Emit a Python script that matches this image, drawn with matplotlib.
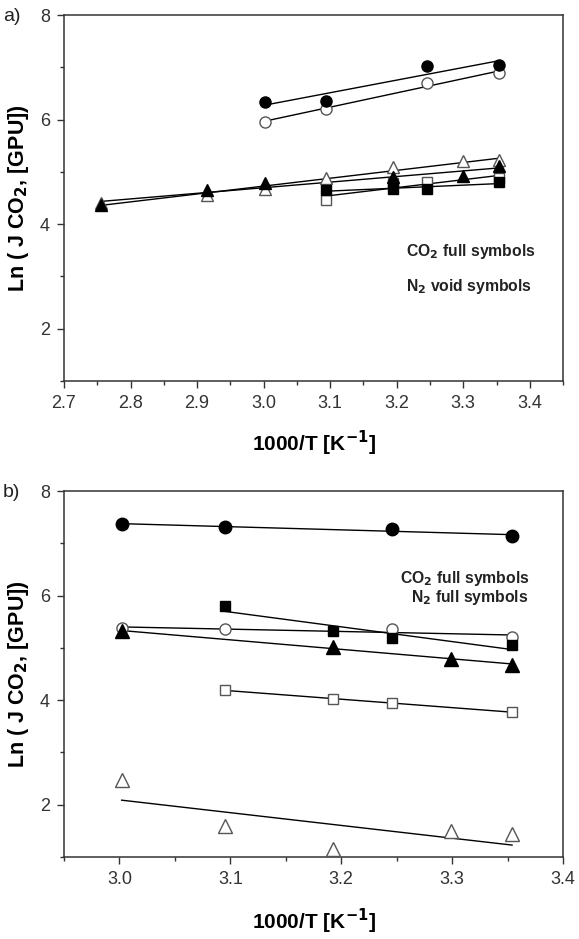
import numpy as np
import matplotlib
matplotlib.use('Agg')
import matplotlib.pyplot as plt
from matplotlib.ticker import MultipleLocator

plt.rcParams['font.family'] = ['Liberation Sans', 'DejaVu Sans']

# panel a) data
a_x_circ = [3.002, 3.094, 3.246, 3.354]
a_co2_circ = [6.33, 6.36, 7.03, 7.05]
a_n2_circ = [5.96, 6.21, 6.70, 6.89]
a_x_tri_full = [2.755, 2.915, 3.002, 3.194, 3.299, 3.354]
a_co2_tri = [4.36, 4.65, 4.79, 4.90, 4.92, 5.12]
a_x_tri_void = [2.755, 2.915, 3.002, 3.094, 3.194, 3.299, 3.354]
a_n2_tri = [4.40, 4.55, 4.68, 4.88, 5.09, 5.20, 5.22]
a_x_sq = [3.094, 3.194, 3.246, 3.354]
a_co2_sq = [4.66, 4.67, 4.67, 4.81]
a_n2_sq = [4.47, 4.78, 4.80, 4.88]

# panel b) data
b_x_circ = [3.002, 3.095, 3.246, 3.354]
b_co2_circ = [7.36, 7.32, 7.28, 7.13]
b_n2_circ = [5.38, 5.36, 5.36, 5.20]
b_x_tri_full = [3.002, 3.193, 3.299, 3.354]
b_co2_tri = [5.32, 5.01, 4.79, 4.68]
b_x_sq = [3.095, 3.193, 3.246, 3.354]
b_co2_sq = [5.80, 5.32, 5.18, 5.06]
b_n2_sq = [4.19, 4.02, 3.95, 3.77]
b_x_tri_void = [3.002, 3.095, 3.193, 3.299, 3.354]
b_n2_tri = [2.47, 1.60, 1.16, 1.49, 1.44]

GREY = '#555555'


def fit_line(ax, x, y):
    # straight linear fit drawn over the span of the points
    p = np.polyfit(x, y, 1)
    xx = np.array([min(x), max(x)])
    ax.plot(xx, np.polyval(p, xx), color='black', lw=1.0, zorder=2)


def pts(ax, x, y, marker, filled, ms):
    if filled:
        ax.plot(x, y, ls='none', marker=marker, ms=ms, mfc='black', mec='black', zorder=4)
    else:
        ax.plot(x, y, ls='none', marker=marker, ms=ms, mfc='white', mec=GREY, mew=1.0, zorder=3)


def style_axes(ax, xlab_y):
    for s in ax.spines.values():
        s.set_color('#333333')
        s.set_linewidth(1.1)
    ax.tick_params(which='both', direction='out', top=False, right=False,
                   colors='#333333', labelsize=13, width=1.0)
    ax.tick_params(which='major', length=5, pad=5)
    ax.tick_params(which='minor', length=3)
    ax.yaxis.set_major_locator(MultipleLocator(2))
    ax.yaxis.set_minor_locator(MultipleLocator(1))
    ax.set_ylabel('Ln ( J CO$_\\mathbf{2}$, [GPU])', fontsize=15.5, fontweight='bold')
    ax.set_xlabel('1000/T [K$^{\\mathbf{-1}}$]', fontsize=15, fontweight='bold')
    ax.yaxis.set_label_coords(-0.066, 0.5)
    ax.xaxis.set_label_coords(0.5, xlab_y)


fig = plt.figure(figsize=(5.79, 9.39), dpi=100)
ax1 = fig.add_axes([0.1105, 0.5942, 0.862, 0.3898])
ax2 = fig.add_axes([0.1105, 0.0873, 0.862, 0.3898])

# a)
for x, y in [(a_x_circ, a_co2_circ), (a_x_circ, a_n2_circ), (a_x_tri_full, a_co2_tri),
             (a_x_tri_void, a_n2_tri), (a_x_sq, a_co2_sq), (a_x_sq, a_n2_sq)]:
    fit_line(ax1, x, y)
pts(ax1, a_x_circ, a_n2_circ, 'o', False, 8)
pts(ax1, a_x_tri_void, a_n2_tri, '^', False, 8.5)
pts(ax1, a_x_sq, a_n2_sq, 's', False, 6.5)
pts(ax1, a_x_circ, a_co2_circ, 'o', True, 8)
pts(ax1, a_x_tri_full, a_co2_tri, '^', True, 8.5)
pts(ax1, a_x_sq, a_co2_sq, 's', True, 6.5)
ax1.set_xlim(2.7, 3.45)
ax1.set_ylim(1, 8)
ax1.xaxis.set_major_locator(MultipleLocator(0.1))
ax1.xaxis.set_minor_locator(MultipleLocator(0.05))
style_axes(ax1, -0.13)
ax1.text(3.214, 3.47, 'CO$_\\mathbf{2}$ full symbols', fontsize=11.3, fontweight='bold', color='#222222', va='center')
ax1.text(3.214, 2.80, 'N$_\\mathbf{2}$ void symbols', fontsize=11.3, fontweight='bold', color='#222222', va='center')

# b)
for x, y in [(b_x_circ, b_co2_circ), (b_x_circ, b_n2_circ), (b_x_tri_full, b_co2_tri),
             (b_x_sq, b_co2_sq), (b_x_sq, b_n2_sq), (b_x_tri_void, b_n2_tri)]:
    fit_line(ax2, x, y)
pts(ax2, b_x_circ, b_n2_circ, 'o', False, 8)
pts(ax2, b_x_sq, b_n2_sq, 's', False, 7)
pts(ax2, b_x_tri_void, b_n2_tri, '^', False, 10)
pts(ax2, b_x_circ, b_co2_circ, 'o', True, 9)
pts(ax2, b_x_tri_full, b_co2_tri, '^', True, 9.5)
pts(ax2, b_x_sq, b_co2_sq, 's', True, 7.5)
ax2.set_xlim(2.95, 3.4)
ax2.set_ylim(1, 8)
ax2.xaxis.set_major_locator(MultipleLocator(0.1))
ax2.xaxis.set_minor_locator(MultipleLocator(0.05))
style_axes(ax2, -0.135)
ax2.text(3.253, 6.32, 'CO$_\\mathbf{2}$ full symbols', fontsize=11.3, fontweight='bold', color='#222222', va='center')
ax2.text(3.263, 5.97, 'N$_\\mathbf{2}$ full symbols', fontsize=11.3, fontweight='bold', color='#222222', va='center')

fig.text(0.005, 0.982, 'a)', fontsize=14, color='#222222', va='center')
fig.text(0.005, 0.476, 'b)', fontsize=14, color='#222222', va='center')

fig.savefig('out.png', dpi=100)
